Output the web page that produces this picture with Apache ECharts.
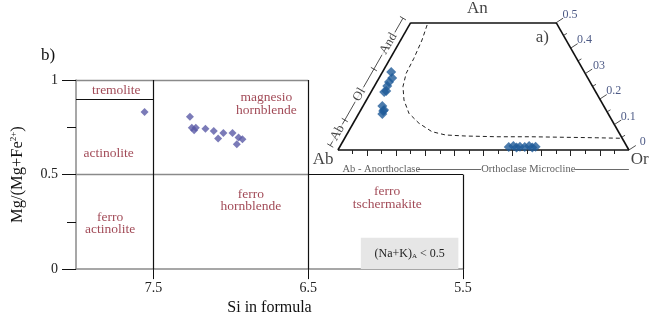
<!DOCTYPE html>
<html>
<head>
<meta charset="utf-8">
<script src="https://cdn.jsdelivr.net/npm/echarts@6/dist/echarts.min.js"></script>
<style>
  html, body { margin: 0; padding: 0; background: #fff; }
  #chart { width: 658px; height: 321px; }
</style>
</head>
<body>
<div id="chart"></div>
<script>
// amphibole classification (b) with the feldspar ternary inset (a)

// ---- b) Si vs Mg/(Mg+Fe2+) ----
const siValues = [7.557, 7.264, 7.252, 7.226, 7.237, 7.164, 7.110, 7.082, 7.048, 6.989, 6.950, 6.925, 6.961];
const mgValues = [0.831, 0.806, 0.747, 0.747, 0.734, 0.742, 0.730, 0.691, 0.720, 0.720, 0.696, 0.687, 0.660];

const xTickValues = [7.5, 6.5, 5.5];

const fieldNames = ['tremolite', 'magnesio\nhornblende', 'actinolite', 'ferro\nhornblende', 'ferro\nactinolite', 'ferro\ntschermakite'];
const fieldSi = [7.74, 6.77, 7.79, 6.87, 7.78, 5.99];
const fieldMg = [0.943, 0.874, 0.613, 0.362, 0.242, 0.375];

// field borders [si1, mg1, si2, mg2]
const borderLines = [[8, 1, 6.5, 1], [8, 0.5, 6.5, 0.5]];
const fieldLines = [[7.5, 0, 7.5, 1], [8, 0.9, 7.5, 0.9], [6.5, 0, 6.5, 1], [6.5, 0.5, 5.5, 0.5], [5.5, 0, 5.5, 0.5]];

const noteSi = [6.16, 5.53];
const noteMg = [0, 0.166];

// ---- a) Ab - An - Or (An truncated at 0.5) ----
const feldAn = [0.306, 0.283, 0.267, 0.251, 0.232, 0.228, 0.173, 0.157, 0.141, 0.153,
                0.012, 0.016, 0.010, 0.013, 0.012, 0.016, 0.010, 0.013];
const feldOr = [0.030, 0.045, 0.042, 0.044, 0.050, 0.045, 0.066, 0.080, 0.082, 0.079,
                0.581, 0.595, 0.609, 0.619, 0.636, 0.649, 0.663, 0.673];

const solvusAn = [0.491, 0.432, 0.360, 0.301, 0.249, 0.196, 0.144, 0.105, 0.072, 0.059, 0.055, 0.052, 0.052, 0.050, 0.048, 0.046];
const solvusOr = [0.061, 0.073, 0.081, 0.084, 0.099, 0.129, 0.172, 0.226, 0.287, 0.340, 0.410, 0.524, 0.637, 0.752, 0.866, 0.954];

const anTicks = [0.5, 0.4, 0.3, 0.2, 0.1, 0];
const anTickLabels = ['0.5', '0.4', '03', '0.2', '0.1', '0'];

const plagNames = ['Ab', 'Ol', 'And'];
const plagBounds = [0, 0.1, 0.3, 0.5];

const FONT = '"Liberation Serif", "Times New Roman", serif';
const RED = '#8a1c2c';
const H = Math.sqrt(3) / 2;
const PX = 1 / 294; // one screen pixel in ternary units

function tern(an, or) { return [or + an / 2, an * H]; }
function off(p, dx, dy) { return [p[0] + dx * PX, p[1] - dy * PX]; }

function segSeries(segs, axis, style, z) {
    return {
        type: 'lines', coordinateSystem: 'cartesian2d', xAxisIndex: axis, yAxisIndex: axis,
        polyline: false, silent: true, clip: false, z: z || 3,
        lineStyle: Object.assign({ opacity: 1, curveness: 0 }, style),
        data: segs.map((s) => ({ coords: [[s[0], s[1]], [s[2], s[3]]] }))
    };
}

function textSeries(items, axis, label) {
    return {
        type: 'scatter', xAxisIndex: axis, yAxisIndex: axis, symbolSize: 0, silent: true, clip: false, z: 6,
        label: Object.assign({ show: true, position: 'inside', fontFamily: FONT, formatter: (p) => p.data.t }, label),
        data: items.map((d) => ({ value: [d[0], d[1]], t: d[2] }))
    };
}

// ternary frame
const corners = [tern(0, 0), tern(0, 1), tern(0.5, 0.5), tern(0.5, 0)];
const frameSegs = corners.map((c, i) => {
    const n = corners[(i + 1) % corners.length];
    return [c[0], c[1], n[0], n[1]];
});

const bottomTicks = [];
for (let k = 1; k < 20; k++) {
    const p = tern(0, k * 0.05);
    const q = off(p, 0, k % 2 ? 4 : 6);
    bottomTicks.push([p[0], p[1], q[0], q[1]]);
}

const rightMarks = [];
anTicks.forEach((a) => {
    const p = tern(a, 1 - a);
    const q = off(p, 7, -4.5);
    rightMarks.push([p[0], p[1], q[0], q[1]]);
});
for (let a = 0.05; a < 0.5; a += 0.1) {
    const p = tern(a, 1 - a);
    const q = off(p, 0.866 * 4, -0.5 * 4);
    rightMarks.push([p[0], p[1], q[0], q[1]]);
}
const rightLabels = anTicks.map((a, i) => {
    const p = off(tern(a, 1 - a), 14, -8);
    return [p[0], p[1], anTickLabels[i]];
});

// plagioclase scale parallel to the Ab-An side
function leftPt(a, d) { return off(tern(a, 0), -0.866 * d, -0.5 * d); }
const leftSegs = [];
const s0 = leftPt(0, 9), s1 = leftPt(0.5, 9);
leftSegs.push([s0[0], s0[1], s1[0], s1[1]]);
plagBounds.forEach((a) => {
    const p = leftPt(a, 5.5), q = leftPt(a, 12.5);
    leftSegs.push([p[0], p[1], q[0], q[1]]);
});
const plagLabels = plagNames.map((n, i) => {
    const p = leftPt((plagBounds[i] + plagBounds[i + 1]) / 2, 9);
    return [p[0], p[1], n];
});

const cornerLabels = [
    off(tern(0, 0), -15, 10).concat('Ab'),
    off(tern(0, 1), 11, 10).concat('Or'),
    off(tern(0.5, 0.25), -6, -14).concat('An')
];
const panelA = off(tern(0.5, 0.5), -14, 15).concat('a)');

const bottomNames = [[0.149, -0.065, 'Ab - Anorthoclase'], [0.654, -0.065, 'Orthoclase Microcline']];
const bottomRules = [[0.274, -0.065, 0.492, -0.065], [0.815, -0.065, 1.0, -0.065]];

const chart = echarts.init(document.getElementById('chart'));

chart.setOption({
    animation: false,
    backgroundColor: '#fff',
    title: {
        text: 'b)', left: 36, top: 42,
        textStyle: { fontFamily: FONT, fontSize: 17, fontWeight: 'normal', color: '#111' }
    },
    grid: [
        { left: 76, top: 80, width: 387, height: 194 },
        { left: 338.3 - 0.12 * 294, top: 3, width: 1.22 * 294, height: 0.6 * 294 }
    ],
    xAxis: [
        {
            type: 'value', gridIndex: 0, min: 5.5, max: 8, interval: 0.5, inverse: true,
            name: 'Si in formula', nameLocation: 'middle', nameGap: 27,
            nameTextStyle: { fontFamily: FONT, fontSize: 16, color: '#111' },
            axisLine: { lineStyle: { color: '#8a8a8a', width: 1.5 } },
            axisTick: { show: true, customValues: xTickValues, length: 10, lineStyle: { color: '#111' } },
            axisLabel: { customValues: xTickValues, margin: 12, fontFamily: FONT, fontSize: 14, color: '#222',
                formatter: (v) => v.toFixed(1) },
            splitLine: { show: false }
        },
        { type: 'value', gridIndex: 1, min: -0.12, max: 1.1, show: false, splitLine: { show: false } }
    ],
    yAxis: [
        {
            type: 'value', gridIndex: 0, min: 0, max: 1, interval: 0.5,
            name: 'Mg/(Mg+Fe{sup|2+})', nameLocation: 'middle', nameGap: 50,
            nameTextStyle: { fontFamily: FONT, fontSize: 16.5, color: '#111',
                rich: { sup: { fontFamily: FONT, fontSize: 9, color: '#111', verticalAlign: 'top', padding: [0, 0, 8, 0] } } },
            axisLine: { show: true, lineStyle: { color: '#8a8a8a', width: 1.5 } },
            axisTick: { show: true, length: 14, lineStyle: { color: '#111' } },
            minorTick: { show: true, splitNumber: 2, length: 9, lineStyle: { color: '#111' } },
            axisLabel: { margin: 18, fontFamily: FONT, fontSize: 14, color: '#222' },
            splitLine: { show: false }
        },
        { type: 'value', gridIndex: 1, min: -0.1, max: 0.5, show: false, splitLine: { show: false } }
    ],
    series: [
        segSeries(borderLines, 0, { color: '#8a8a8a', width: 1.3 }),
        segSeries(fieldLines, 0, { color: '#111', width: 1.2 }),
        {
            type: 'scatter', xAxisIndex: 0, yAxisIndex: 0, symbol: 'diamond', symbolSize: 8, z: 5,
            itemStyle: { color: '#5a5aa6' },
            data: siValues.map((s, i) => [s, mgValues[i]]),
            markArea: {
                silent: true,
                itemStyle: { color: '#e6e6e6' },
                label: {
                    show: true, position: 'inside', formatter: '(Na+K){s|A} < 0.5',
                    fontFamily: FONT, fontSize: 12, color: '#222',
                    rich: { s: { fontFamily: FONT, fontSize: 7, color: '#222', verticalAlign: 'bottom', padding: [6, 0, 0, 0] } }
                },
                data: [[{ coord: [noteSi[0], noteMg[0]] }, { coord: [noteSi[1], noteMg[1]] }]]
            }
        },
        textSeries(fieldNames.map((n, i) => [fieldSi[i], fieldMg[i], n]), 0,
            { fontSize: 13.5, lineHeight: 12.5, color: RED, align: 'center' }),

        // ternary
        segSeries(frameSegs, 1, { color: '#111', width: 1.6 }),
        segSeries(bottomTicks, 1, { color: '#222', width: 1 }),
        segSeries(rightMarks, 1, { color: '#222', width: 0.8 }),
        segSeries(leftSegs, 1, { color: '#222', width: 0.8 }),
        segSeries(bottomRules, 1, { color: '#444', width: 0.8 }),
        {
            type: 'line', xAxisIndex: 1, yAxisIndex: 1, symbol: 'none', silent: true, z: 4,
            lineStyle: { color: '#222', width: 1, type: [4, 3] },
            data: solvusAn.map((a, i) => tern(a, solvusOr[i]))
        },
        {
            type: 'scatter', xAxisIndex: 1, yAxisIndex: 1, symbol: 'diamond', symbolSize: 10, z: 5,
            itemStyle: { color: '#1f5b99' },
            data: feldAn.map((a, i) => tern(a, feldOr[i]))
        },
        textSeries(cornerLabels, 1, { fontSize: 17, color: '#111' }),
        textSeries([panelA], 1, { fontSize: 17, color: '#111' }),
        textSeries(rightLabels, 1, { fontSize: 12, color: '#1f2f66' }),
        textSeries(bottomNames, 1, { fontSize: 10.5, color: '#333' }),
        textSeries(plagLabels, 1, { fontSize: 13, color: '#111', rotate: 60, backgroundColor: '#fff', padding: [0, 2] })
    ]
});
</script>
</body>
</html>
